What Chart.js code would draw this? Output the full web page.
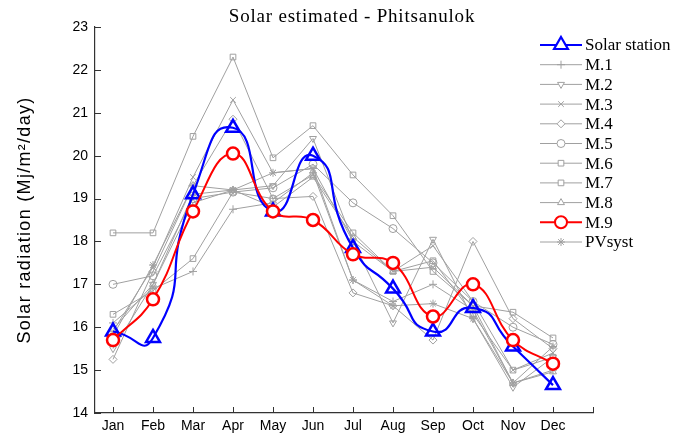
<!DOCTYPE html>
<html>
<head>
<meta charset="utf-8">
<script src="https://cdn.jsdelivr.net/npm/chart.js@4/dist/chart.umd.min.js"></script>
<style>
  html, body { margin: 0; padding: 0; background: #fff; }
  #wrap { width: 676px; height: 437px; }
</style>
</head>
<body>
<div id="wrap"><canvas id="solarChart" width="676" height="437"></canvas></div>
<script>
const months = ['Jan', 'Feb', 'Mar', 'Apr', 'May', 'Jun', 'Jul', 'Aug', 'Sep', 'Oct', 'Nov', 'Dec'];
const yTicks = [14, 15, 16, 17, 18, 19, 20, 21, 22, 23];

const solarStation = [15.9, 15.75, 19.1, 20.65, 18.7, 20.0, 17.85, 16.9, 15.9, 16.45, 15.55, 14.65];
const m1 = [16.1, 16.9, 17.3, 18.75, 18.9, 19.6, 17.1, 16.6, 17.0, 16.4, 14.7, 15.0];
const m2 = [15.5, 17.0, 19.1, 19.2, 19.3, 20.4, 18.0, 16.1, 18.05, 16.2, 14.6, 15.3];
const m3 = [15.9, 17.4, 19.5, 21.3, 19.6, 19.7, 18.0, 17.3, 17.9, 16.6, 15.0, 15.4];
const m4 = [15.25, 17.3, 19.3, 20.85, 19.0, 19.05, 16.8, 16.5, 15.7, 18.0, 16.2, 15.5];
const m5 = [17.0, 17.2, 19.0, 19.15, 19.25, 19.8, 18.9, 18.3, 17.5, 16.6, 16.0, 15.6];
const m6 = [18.2, 18.2, 20.45, 22.3, 19.95, 20.7, 19.55, 18.6, 17.3, 16.5, 16.35, 15.75];
const m7 = [16.3, 16.85, 17.6, 19.15, 19.0, 19.55, 18.2, 17.3, 17.55, 16.3, 15.0, 15.3];
const m8 = [15.95, 17.0, 18.9, 19.2, 18.8, 19.5, 18.1, 17.3, 17.4, 16.5, 14.7, 14.96];
const m9 = [15.7, 16.65, 18.7, 20.05, 18.7, 18.5, 17.7, 17.5, 16.25, 17.0, 15.7, 15.15];
const pvsyst = [15.8, 17.45, 19.3, 19.2, 19.6, 19.7, 17.1, 16.5, 16.55, 16.2, 14.7, 15.55];

const GRAY = '#a0a0a0';

function pts(arr) {
  return arr.map((v, i) => ({ x: i + 1, y: v }));
}

function grayLine(label, arr, style, rotation) {
  return {
    label,
    data: pts(arr),
    borderColor: GRAY,
    backgroundColor: '#fff',
    borderWidth: 1,
    pointStyle: style,
    pointRotation: rotation || 0,
    pointRadius: 4,
    pointBorderWidth: 1,
    pointBorderColor: GRAY,
    pointBackgroundColor: 'rgba(255,255,255,0)',
    tension: 0,
    order: 2
  };
}

const datasets = [
  {
    label: 'Solar station',
    data: pts(solarStation),
    borderColor: '#0000ff',
    backgroundColor: '#fff',
    borderWidth: 2.2,
    pointStyle: 'triangle',
    pointRadius: 8,
    pointBorderWidth: 2.5,
    pointBackgroundColor: 'rgba(255,255,255,0)',
    tension: 0.65,
    order: 1
  },
  grayLine('M.1', m1, 'cross'),
  grayLine('M.2', m2, 'triangle', 180),
  grayLine('M.3', m3, 'crossRot'),
  grayLine('M.4', m4, 'rectRot'),
  grayLine('M.5', m5, 'circle'),
  grayLine('M.6', m6, 'rect'),
  grayLine('M.7', m7, 'rect'),
  grayLine('M.8', m8, 'triangle'),
  {
    label: 'M.9',
    data: pts(m9),
    borderColor: '#ff0000',
    backgroundColor: '#fff',
    borderWidth: 2,
    pointStyle: 'circle',
    pointRadius: 6,
    pointBorderWidth: 2.5,
    pointBackgroundColor: '#fff',
    tension: 0.45,
    order: 0
  },
  grayLine('PVsyst', pvsyst, 'star')
];

// title, y title, inward ticks and the side legend
const decorations = {
  id: 'decorations',
  afterDraw(chart) {
    const ctx = chart.ctx;
    const xs = chart.scales.x;
    const ys = chart.scales.y;
    const area = chart.chartArea;
    ctx.save();

    ctx.fillStyle = '#000';
    ctx.font = '19px "Liberation Serif", serif';
    ctx.letterSpacing = '0.8px';
    ctx.textAlign = 'center';
    ctx.textBaseline = 'middle';
    ctx.fillText('Solar estimated - Phitsanulok', 352, 17);

    ctx.save();
    ctx.translate(25, (area.top + area.bottom) / 2);
    ctx.rotate(-Math.PI / 2);
    ctx.font = '18px "Liberation Sans", Arial, sans-serif';
    ctx.letterSpacing = '1.3px';
    ctx.fillText('Solar radiation (Mj/m²/day)', 0, 0);
    ctx.restore();
    ctx.letterSpacing = '0px';

    ctx.strokeStyle = '#333';
    ctx.lineWidth = 1;
    ctx.beginPath();
    for (let i = 1; i <= months.length + 1; i++) {
      const px = Math.round(xs.getPixelForValue(i)) + 0.5;
      ctx.moveTo(px, area.bottom);
      ctx.lineTo(px, area.bottom - 6);
    }
    for (const t of yTicks) {
      const py = Math.round(ys.getPixelForValue(t)) + 0.5;
      ctx.moveTo(area.left, py);
      ctx.lineTo(area.left + 6, py);
    }
    ctx.stroke();

    const x0 = 540, x1 = 582, top = 45, step = 19.7;
    chart.data.datasets.forEach((ds, i) => {
      const y = top + i * step;
      ctx.strokeStyle = ds.borderColor;
      ctx.lineWidth = ds.borderWidth;
      ctx.beginPath();
      ctx.moveTo(x0, y);
      ctx.lineTo(x1, y);
      ctx.stroke();
      const opts = {
        pointStyle: ds.pointStyle,
        radius: ds.pointRadius,
        rotation: ds.pointRotation || 0,
        borderWidth: ds.pointBorderWidth
      };
      ctx.strokeStyle = ds.pointBorderColor || ds.borderColor;
      ctx.fillStyle = '#fff';
      Chart.helpers.drawPoint(ctx, opts, (x0 + x1) / 2, y);
      ctx.fillStyle = '#000';
      ctx.font = '17px "Liberation Serif", serif';
      ctx.textAlign = 'left';
      ctx.textBaseline = 'middle';
      ctx.fillText(ds.label, x1 + 3, y + 1);
    });

    ctx.restore();
  }
};

new Chart(document.getElementById('solarChart').getContext('2d'), {
  type: 'line',
  data: { datasets },
  options: {
    responsive: false,
    animation: false,
    layout: { padding: { top: 27, right: 83, left: 0, bottom: 0 } },
    plugins: {
      legend: { display: false },
      tooltip: { enabled: false }
    },
    scales: {
      x: {
        type: 'linear',
        min: 0.55,
        max: 13,
        afterBuildTicks: (scale) => { scale.ticks = months.map((m, i) => ({ value: i + 1 })); },
        afterFit: (scale) => { scale.height = 24; },
        ticks: {
          callback: (v) => months[v - 1] || '',
          color: '#000',
          font: { family: '"Liberation Sans", Arial, sans-serif', size: 14 },
          padding: 5,
          maxRotation: 0,
          autoSkip: false
        },
        grid: { display: false, drawTicks: false },
        border: { display: true, color: '#333', width: 1.2 }
      },
      y: {
        min: 14,
        max: 23,
        afterBuildTicks: (scale) => { scale.ticks = yTicks.map((v) => ({ value: v })); },
        afterFit: (scale) => { scale.width = 95; },
        ticks: {
          color: '#000',
          font: { family: '"Liberation Sans", Arial, sans-serif', size: 14 },
          padding: 7
        },
        grid: { display: false, drawTicks: false },
        border: { display: true, color: '#333', width: 1.2 }
      }
    }
  },
  plugins: [decorations]
});
</script>
</body>
</html>
